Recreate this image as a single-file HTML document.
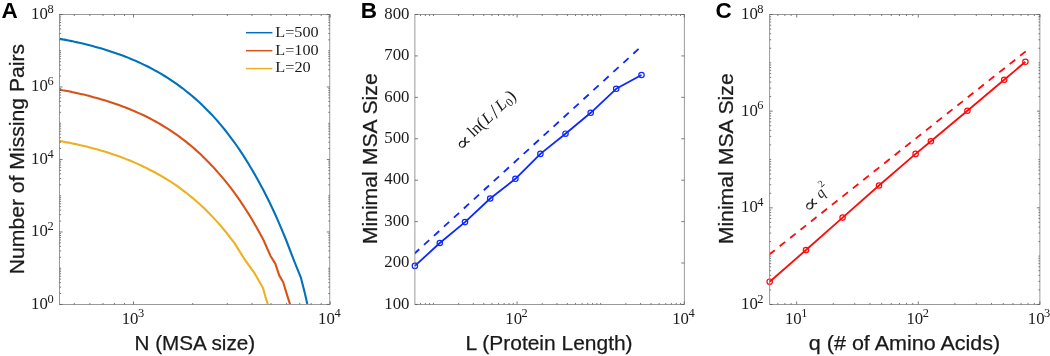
<!DOCTYPE html>
<html><head><meta charset="utf-8"><title>Figure</title>
<style>html,body{margin:0;padding:0;background:#fff}svg{display:block}</style></head>
<body><svg width="1050" height="356" viewBox="0 0 1050 356">
<rect width="1050" height="356" fill="#fff"/>
<clipPath id="ca"><rect x="59.6" y="14.5" width="270.20" height="289.95"/></clipPath>
<path d="M59.6 38.8 L62.6 39.4 L65.6 39.9 L68.6 40.5 L71.6 41.1 L74.6 41.8 L77.6 42.4 L80.6 43.1 L83.6 43.8 L86.6 44.5 L89.6 45.3 L92.6 46.1 L95.6 46.9 L98.6 47.7 L101.6 48.6 L104.6 49.5 L107.6 50.4 L110.6 51.4 L113.6 52.4 L116.6 53.4 L119.6 54.5 L122.6 55.6 L125.6 56.7 L128.6 57.9 L131.6 59.2 L134.6 60.4 L137.6 61.8 L140.6 63.1 L143.6 64.6 L146.6 66.0 L149.6 67.5 L152.6 69.1 L155.6 70.8 L158.6 72.4 L161.6 74.2 L164.6 76.0 L167.6 77.9 L170.6 79.8 L173.6 81.8 L176.6 83.9 L179.6 86.1 L182.6 88.3 L185.6 90.7 L188.6 93.1 L191.6 95.5 L194.6 98.1 L197.6 100.8 L200.6 103.6 L203.6 106.4 L206.6 109.4 L209.6 112.5 L212.6 115.6 L215.6 118.9 L218.6 122.3 L221.6 125.9 L224.6 129.5 L227.6 133.3 L230.6 137.3 L233.6 141.3 L236.6 145.5 L239.6 149.9 L242.6 154.4 L245.6 159.1 L248.6 164.0 L251.6 169.0 L254.6 174.1 L257.6 179.4 L260.6 184.9 L263.6 190.5 L266.6 196.4 L269.6 202.5 L272.6 208.8 L275.6 215.3 L278.6 222.1 L281.6 229.1 L286.1 240.0 L294.0 260.6 L300.8 277.3 L304.8 293.1 L307.3 304.1" fill="none" stroke="#0072BD" stroke-width="2.1" stroke-linejoin="round" clip-path="url(#ca)"/>
<path d="M59.6 89.6 L62.6 90.2 L65.6 90.7 L68.6 91.3 L71.6 91.9 L74.6 92.6 L77.6 93.2 L80.6 93.9 L83.6 94.6 L86.6 95.3 L89.6 96.1 L92.6 96.9 L95.6 97.7 L98.6 98.5 L101.6 99.4 L104.6 100.3 L107.6 101.2 L110.6 102.2 L113.6 103.2 L116.6 104.2 L119.6 105.3 L122.6 106.4 L125.6 107.5 L128.6 108.7 L131.6 110.0 L134.6 111.2 L137.6 112.6 L140.6 113.9 L143.6 115.3 L146.6 116.8 L149.6 118.3 L152.6 119.9 L155.6 121.5 L158.6 123.2 L161.6 125.0 L164.6 126.8 L167.6 128.7 L170.6 130.6 L173.6 132.6 L176.6 134.7 L179.6 136.9 L182.6 139.1 L185.6 141.4 L188.6 143.9 L191.6 146.3 L194.6 148.9 L197.6 151.6 L200.6 154.3 L203.6 157.2 L206.6 160.2 L209.6 163.3 L212.6 166.4 L215.6 169.7 L218.6 173.1 L221.6 176.6 L224.6 180.1 L227.6 183.9 L230.6 187.7 L233.6 191.7 L236.6 195.8 L239.6 200.1 L242.6 204.6 L245.6 209.2 L248.6 213.9 L251.6 218.8 L254.6 224.0 L257.6 229.2 L263.5 240.0 L270.4 255.7 L275.3 263.6 L279.2 275.4 L283.2 282.3 L286.5 293.1 L290.0 304.1" fill="none" stroke="#D95319" stroke-width="2.1" stroke-linejoin="round" clip-path="url(#ca)"/>
<path d="M59.6 140.9 L62.6 141.5 L65.6 142.1 L68.6 142.6 L71.6 143.3 L74.6 143.9 L77.6 144.5 L80.6 145.2 L83.6 145.9 L86.6 146.6 L89.6 147.4 L92.6 148.2 L95.6 149.0 L98.6 149.8 L101.6 150.7 L104.6 151.6 L107.6 152.5 L110.6 153.5 L113.6 154.5 L116.6 155.5 L119.6 156.6 L122.6 157.7 L125.6 158.9 L128.6 160.0 L131.6 161.3 L134.6 162.6 L137.6 163.9 L140.6 165.2 L143.6 166.7 L146.6 168.1 L149.6 169.7 L152.6 171.2 L155.6 172.8 L158.6 174.5 L161.6 176.2 L164.6 178.0 L167.6 179.8 L170.6 181.7 L173.6 183.7 L176.6 185.7 L179.6 187.9 L182.6 190.1 L185.6 192.3 L188.6 194.7 L191.6 197.1 L194.6 199.7 L197.6 202.3 L200.6 205.0 L203.6 207.8 L206.6 210.7 L209.6 213.7 L212.6 216.9 L215.6 220.1 L218.6 223.4 L221.6 226.9 L224.6 230.5 L227.6 234.2 L230.6 238.1 L235.0 243.9 L244.8 259.7 L254.7 273.4 L263.1 288.2 L265.5 297.0 L267.8 304.1" fill="none" stroke="#EDB120" stroke-width="2.1" stroke-linejoin="round" clip-path="url(#ca)"/>
<rect x="59.6" y="14.5" width="270.20" height="289.95" fill="none" stroke="#787878" stroke-width="0.75"/>
<path d="M59.6 14.50h3.0M329.8 14.50h-3.0M59.6 86.99h3.0M329.8 86.99h-3.0M59.6 159.47h3.0M329.8 159.47h-3.0M59.6 231.96h3.0M329.8 231.96h-3.0M59.6 304.45h3.0M329.8 304.45h-3.0" stroke="#5a5a5a" stroke-width="0.8" fill="none"/>
<path d="M59.6 50.74h1.5M329.8 50.74h-1.5M59.6 123.23h1.5M329.8 123.23h-1.5M59.6 195.72h1.5M329.8 195.72h-1.5M59.6 268.21h1.5M329.8 268.21h-1.5" stroke="#5a5a5a" stroke-width="0.8" fill="none"/>
<path d="M59.6 293.54h1.5M329.8 293.54h-1.5M59.6 287.16h1.5M329.8 287.16h-1.5M59.6 282.63h1.5M329.8 282.63h-1.5M59.6 279.12h1.5M329.8 279.12h-1.5M59.6 276.25h1.5M329.8 276.25h-1.5M59.6 273.82h1.5M329.8 273.82h-1.5M59.6 271.72h1.5M329.8 271.72h-1.5M59.6 269.86h1.5M329.8 269.86h-1.5M59.6 257.30h1.5M329.8 257.30h-1.5M59.6 250.91h1.5M329.8 250.91h-1.5M59.6 246.39h1.5M329.8 246.39h-1.5M59.6 242.87h1.5M329.8 242.87h-1.5M59.6 240.00h1.5M329.8 240.00h-1.5M59.6 237.58h1.5M329.8 237.58h-1.5M59.6 235.47h1.5M329.8 235.47h-1.5M59.6 233.62h1.5M329.8 233.62h-1.5M59.6 221.05h1.5M329.8 221.05h-1.5M59.6 214.67h1.5M329.8 214.67h-1.5M59.6 210.14h1.5M329.8 210.14h-1.5M59.6 206.63h1.5M329.8 206.63h-1.5M59.6 203.76h1.5M329.8 203.76h-1.5M59.6 201.33h1.5M329.8 201.33h-1.5M59.6 199.23h1.5M329.8 199.23h-1.5M59.6 197.38h1.5M329.8 197.38h-1.5M59.6 184.81h1.5M329.8 184.81h-1.5M59.6 178.43h1.5M329.8 178.43h-1.5M59.6 173.90h1.5M329.8 173.90h-1.5M59.6 170.39h1.5M329.8 170.39h-1.5M59.6 167.52h1.5M329.8 167.52h-1.5M59.6 165.09h1.5M329.8 165.09h-1.5M59.6 162.99h1.5M329.8 162.99h-1.5M59.6 161.13h1.5M329.8 161.13h-1.5M59.6 148.56h1.5M329.8 148.56h-1.5M59.6 142.18h1.5M329.8 142.18h-1.5M59.6 137.65h1.5M329.8 137.65h-1.5M59.6 134.14h1.5M329.8 134.14h-1.5M59.6 131.27h1.5M329.8 131.27h-1.5M59.6 128.85h1.5M329.8 128.85h-1.5M59.6 126.74h1.5M329.8 126.74h-1.5M59.6 124.89h1.5M329.8 124.89h-1.5M59.6 112.32h1.5M329.8 112.32h-1.5M59.6 105.94h1.5M329.8 105.94h-1.5M59.6 101.41h1.5M329.8 101.41h-1.5M59.6 97.90h1.5M329.8 97.90h-1.5M59.6 95.03h1.5M329.8 95.03h-1.5M59.6 92.60h1.5M329.8 92.60h-1.5M59.6 90.50h1.5M329.8 90.50h-1.5M59.6 88.65h1.5M329.8 88.65h-1.5M59.6 76.08h1.5M329.8 76.08h-1.5M59.6 69.69h1.5M329.8 69.69h-1.5M59.6 65.17h1.5M329.8 65.17h-1.5M59.6 61.65h1.5M329.8 61.65h-1.5M59.6 58.78h1.5M329.8 58.78h-1.5M59.6 56.36h1.5M329.8 56.36h-1.5M59.6 54.26h1.5M329.8 54.26h-1.5M59.6 52.40h1.5M329.8 52.40h-1.5M59.6 39.83h1.5M329.8 39.83h-1.5M59.6 33.45h1.5M329.8 33.45h-1.5M59.6 28.92h1.5M329.8 28.92h-1.5M59.6 25.41h1.5M329.8 25.41h-1.5M59.6 22.54h1.5M329.8 22.54h-1.5M59.6 20.11h1.5M329.8 20.11h-1.5M59.6 18.01h1.5M329.8 18.01h-1.5M59.6 16.16h1.5M329.8 16.16h-1.5" stroke="#5a5a5a" stroke-width="0.8" fill="none"/>
<path d="M133.50 304.45v-3.0M133.50 14.5v3.0M330.20 304.45v-3.0M330.20 14.5v3.0" stroke="#5a5a5a" stroke-width="0.8" fill="none"/>
<path d="M74.29 304.45v-1.5M74.29 14.5v1.5M89.86 304.45v-1.5M89.86 14.5v1.5M103.03 304.45v-1.5M103.03 14.5v1.5M114.44 304.45v-1.5M114.44 14.5v1.5M124.50 304.45v-1.5M124.50 14.5v1.5M192.71 304.45v-1.5M192.71 14.5v1.5M227.35 304.45v-1.5M227.35 14.5v1.5M251.93 304.45v-1.5M251.93 14.5v1.5M270.99 304.45v-1.5M270.99 14.5v1.5M286.56 304.45v-1.5M286.56 14.5v1.5M299.73 304.45v-1.5M299.73 14.5v1.5M311.14 304.45v-1.5M311.14 14.5v1.5M321.20 304.45v-1.5M321.20 14.5v1.5" stroke="#5a5a5a" stroke-width="0.8" fill="none"/>
<text transform="translate(31.10 308.95) scale(0.97 1)" font-family='"Liberation Serif", serif' font-size="17.3" fill="#1a1a1a">10<tspan dx="-0.5" dy="-6.3" font-size="12.8">0</tspan></text>
<text transform="translate(31.10 236.46) scale(0.97 1)" font-family='"Liberation Serif", serif' font-size="17.3" fill="#1a1a1a">10<tspan dx="-0.5" dy="-6.3" font-size="12.8">2</tspan></text>
<text transform="translate(31.10 163.97) scale(0.97 1)" font-family='"Liberation Serif", serif' font-size="17.3" fill="#1a1a1a">10<tspan dx="-0.5" dy="-6.3" font-size="12.8">4</tspan></text>
<text transform="translate(31.10 91.49) scale(0.97 1)" font-family='"Liberation Serif", serif' font-size="17.3" fill="#1a1a1a">10<tspan dx="-0.5" dy="-6.3" font-size="12.8">6</tspan></text>
<text transform="translate(31.10 19.00) scale(0.97 1)" font-family='"Liberation Serif", serif' font-size="17.3" fill="#1a1a1a">10<tspan dx="-0.5" dy="-6.3" font-size="12.8">8</tspan></text>
<text transform="translate(121.70 323.60) scale(0.97 1)" font-family='"Liberation Serif", serif' font-size="17.3" fill="#1a1a1a">10<tspan dx="-0.5" dy="-6.3" font-size="12.8">3</tspan></text>
<text transform="translate(318.10 323.60) scale(0.97 1)" font-family='"Liberation Serif", serif' font-size="17.3" fill="#1a1a1a">10<tspan dx="-0.5" dy="-6.3" font-size="12.8">4</tspan></text>
<text x="1.4" y="18.4" font-family='"Liberation Sans", sans-serif' font-weight="bold" font-size="22.5" fill="#000">A</text>
<text transform="translate(23.9 274.3) rotate(-90)" font-family='"Liberation Sans", sans-serif' font-size="20" fill="#1a1a1a" stroke="#1a1a1a" stroke-width="0.25" textLength="230.5" lengthAdjust="spacingAndGlyphs">Number of Missing Pairs</text>
<text x="134.5" y="350.4" font-family='"Liberation Sans", sans-serif' font-size="20" fill="#1a1a1a" stroke="#1a1a1a" stroke-width="0.25" textLength="120.6" lengthAdjust="spacingAndGlyphs">N (MSA size)</text>
<path d="M246 32.7H272.4" stroke="#0072BD" stroke-width="1.5"/>
<text x="275.3" y="36.5" font-family='"Liberation Serif", serif' font-size="15.4" fill="#1a1a1a" textLength="43.4" lengthAdjust="spacingAndGlyphs">L=500</text>
<path d="M246 50.7H272.4" stroke="#D95319" stroke-width="1.5"/>
<text x="275.3" y="54.5" font-family='"Liberation Serif", serif' font-size="15.4" fill="#1a1a1a" textLength="43.4" lengthAdjust="spacingAndGlyphs">L=100</text>
<path d="M246 68.6H272.4" stroke="#EDB120" stroke-width="1.5"/>
<text x="275.3" y="72.4" font-family='"Liberation Serif", serif' font-size="15.4" fill="#1a1a1a" textLength="35.4" lengthAdjust="spacingAndGlyphs">L=20</text>
<clipPath id="cb"><rect x="414.9" y="14.5" width="269.40" height="289.95"/></clipPath>
<path d="M414.0 254.0L639.4 48.2" stroke="#0d28ff" stroke-width="1.8" stroke-dasharray="7.1 6.4" fill="none" clip-path="url(#cb)"/>
<path d="M414.9 265.9 L439.8 243.0 L465.0 222.1 L490.2 198.5 L515.4 178.8 L540.4 153.9 L565.5 133.7 L590.7 112.8 L616.2 88.8 L641.5 75.0" stroke="#0d28ff" stroke-width="1.8" fill="none" stroke-linejoin="round"/>
<circle cx="414.9" cy="265.9" r="2.7" fill="none" stroke="#0d28ff" stroke-width="1.2"/>
<circle cx="439.8" cy="243.0" r="2.7" fill="none" stroke="#0d28ff" stroke-width="1.2"/>
<circle cx="465.0" cy="222.1" r="2.7" fill="none" stroke="#0d28ff" stroke-width="1.2"/>
<circle cx="490.2" cy="198.5" r="2.7" fill="none" stroke="#0d28ff" stroke-width="1.2"/>
<circle cx="515.4" cy="178.8" r="2.7" fill="none" stroke="#0d28ff" stroke-width="1.2"/>
<circle cx="540.4" cy="153.9" r="2.7" fill="none" stroke="#0d28ff" stroke-width="1.2"/>
<circle cx="565.5" cy="133.7" r="2.7" fill="none" stroke="#0d28ff" stroke-width="1.2"/>
<circle cx="590.7" cy="112.8" r="2.7" fill="none" stroke="#0d28ff" stroke-width="1.2"/>
<circle cx="616.2" cy="88.8" r="2.7" fill="none" stroke="#0d28ff" stroke-width="1.2"/>
<circle cx="641.5" cy="75.0" r="2.7" fill="none" stroke="#0d28ff" stroke-width="1.2"/>
<rect x="414.9" y="14.5" width="269.40" height="289.95" fill="none" stroke="#787878" stroke-width="0.75"/>
<path d="M414.9 14.50h3.0M684.3 14.50h-3.0M414.9 55.92h3.0M684.3 55.92h-3.0M414.9 97.34h3.0M684.3 97.34h-3.0M414.9 138.76h3.0M684.3 138.76h-3.0M414.9 180.19h3.0M684.3 180.19h-3.0M414.9 221.61h3.0M684.3 221.61h-3.0M414.9 263.03h3.0M684.3 263.03h-3.0M414.9 304.45h3.0M684.3 304.45h-3.0" stroke="#5a5a5a" stroke-width="0.8" fill="none"/>
<path d="M517.07 304.45v-3.0M517.07 14.5v3.0M684.30 304.45v-3.0M684.30 14.5v3.0" stroke="#5a5a5a" stroke-width="0.8" fill="none"/>
<path d="M433.45 304.45v-1.5M433.45 14.5v1.5M600.68 304.45v-1.5M600.68 14.5v1.5" stroke="#5a5a5a" stroke-width="0.8" fill="none"/>
<path d="M420.50 304.45v-1.5M420.50 14.5v1.5M425.35 304.45v-1.5M425.35 14.5v1.5M429.62 304.45v-1.5M429.62 14.5v1.5M458.62 304.45v-1.5M458.62 14.5v1.5M473.35 304.45v-1.5M473.35 14.5v1.5M483.79 304.45v-1.5M483.79 14.5v1.5M491.90 304.45v-1.5M491.90 14.5v1.5M498.52 304.45v-1.5M498.52 14.5v1.5M504.11 304.45v-1.5M504.11 14.5v1.5M508.96 304.45v-1.5M508.96 14.5v1.5M513.24 304.45v-1.5M513.24 14.5v1.5M542.24 304.45v-1.5M542.24 14.5v1.5M556.96 304.45v-1.5M556.96 14.5v1.5M567.41 304.45v-1.5M567.41 14.5v1.5M575.51 304.45v-1.5M575.51 14.5v1.5M582.13 304.45v-1.5M582.13 14.5v1.5M587.73 304.45v-1.5M587.73 14.5v1.5M592.58 304.45v-1.5M592.58 14.5v1.5M596.86 304.45v-1.5M596.86 14.5v1.5M625.85 304.45v-1.5M625.85 14.5v1.5M640.58 304.45v-1.5M640.58 14.5v1.5M651.03 304.45v-1.5M651.03 14.5v1.5M659.13 304.45v-1.5M659.13 14.5v1.5M665.75 304.45v-1.5M665.75 14.5v1.5M671.35 304.45v-1.5M671.35 14.5v1.5M676.20 304.45v-1.5M676.20 14.5v1.5M680.47 304.45v-1.5M680.47 14.5v1.5" stroke="#5a5a5a" stroke-width="0.8" fill="none"/>
<text transform="translate(409.4 18.70) scale(0.97 1)" font-family='"Liberation Serif", serif' font-size="17.3" text-anchor="end" fill="#1a1a1a">800</text>
<text transform="translate(409.4 60.12) scale(0.97 1)" font-family='"Liberation Serif", serif' font-size="17.3" text-anchor="end" fill="#1a1a1a">700</text>
<text transform="translate(409.4 101.54) scale(0.97 1)" font-family='"Liberation Serif", serif' font-size="17.3" text-anchor="end" fill="#1a1a1a">600</text>
<text transform="translate(409.4 142.96) scale(0.97 1)" font-family='"Liberation Serif", serif' font-size="17.3" text-anchor="end" fill="#1a1a1a">500</text>
<text transform="translate(409.4 184.39) scale(0.97 1)" font-family='"Liberation Serif", serif' font-size="17.3" text-anchor="end" fill="#1a1a1a">400</text>
<text transform="translate(409.4 225.81) scale(0.97 1)" font-family='"Liberation Serif", serif' font-size="17.3" text-anchor="end" fill="#1a1a1a">300</text>
<text transform="translate(409.4 267.23) scale(0.97 1)" font-family='"Liberation Serif", serif' font-size="17.3" text-anchor="end" fill="#1a1a1a">200</text>
<text transform="translate(409.4 308.65) scale(0.97 1)" font-family='"Liberation Serif", serif' font-size="17.3" text-anchor="end" fill="#1a1a1a">100</text>
<text transform="translate(505.27 323.60) scale(0.97 1)" font-family='"Liberation Serif", serif' font-size="17.3" fill="#1a1a1a">10<tspan dx="-0.5" dy="-6.3" font-size="12.8">2</tspan></text>
<text transform="translate(672.20 323.60) scale(0.97 1)" font-family='"Liberation Serif", serif' font-size="17.3" fill="#1a1a1a">10<tspan dx="-0.5" dy="-6.3" font-size="12.8">4</tspan></text>
<text x="360.8" y="18.2" font-family='"Liberation Sans", sans-serif' font-weight="bold" font-size="22.5" fill="#000">B</text>
<text transform="translate(377.0 244.3) rotate(-90)" font-family='"Liberation Sans", sans-serif' font-size="20" fill="#1a1a1a" stroke="#1a1a1a" stroke-width="0.25" textLength="171" lengthAdjust="spacingAndGlyphs">Minimal MSA Size</text>
<text x="465.6" y="350.4" font-family='"Liberation Sans", sans-serif' font-size="20" fill="#1a1a1a" stroke="#1a1a1a" stroke-width="0.25" textLength="167" lengthAdjust="spacingAndGlyphs">L (Protein Length)</text>
<text transform="translate(461.3 149.2) rotate(-43.2) scale(1 0.8)" x="-2.1" y="3.4" font-family='"DejaVu Serif", "DejaVu Sans", serif' font-size="23.5" fill="#1a1a1a">∝</text>
<text transform="translate(461.3 149.2) rotate(-43.2)" font-family='"Liberation Serif", serif' font-size="16.5" fill="#1a1a1a"><tspan x="16.6" y="0">ln</tspan><tspan x="28.9" y="0.4" font-size="18">(</tspan><tspan x="35.8" y="0" font-style="italic">L</tspan><tspan x="46.8" y="1.8" font-size="21">/</tspan><tspan x="54.6" y="0" font-style="italic">L</tspan><tspan x="64.5" y="2.6" font-size="11.5">0</tspan><tspan x="70.1" y="0.4" font-size="18">)</tspan></text>
<clipPath id="cc"><rect x="769.7" y="14.5" width="270.20" height="289.95"/></clipPath>
<path d="M769.17 254.6L1026.0 51.15" stroke="#ff0a0a" stroke-width="1.8" stroke-dasharray="7.1 6.24" fill="none" clip-path="url(#cc)"/>
<path d="M769.7 281.7 L806.0 250.0 L842.6 217.6 L879.0 185.5 L915.6 153.9 L930.9 141.3 L967.4 110.8 L1004.2 79.8 L1025.4 61.8" stroke="#ff0a0a" stroke-width="1.8" fill="none" stroke-linejoin="round"/>
<circle cx="769.7" cy="281.7" r="2.7" fill="none" stroke="#ff0a0a" stroke-width="1.2"/>
<circle cx="806.0" cy="250.0" r="2.7" fill="none" stroke="#ff0a0a" stroke-width="1.2"/>
<circle cx="842.6" cy="217.6" r="2.7" fill="none" stroke="#ff0a0a" stroke-width="1.2"/>
<circle cx="879.0" cy="185.5" r="2.7" fill="none" stroke="#ff0a0a" stroke-width="1.2"/>
<circle cx="915.6" cy="153.9" r="2.7" fill="none" stroke="#ff0a0a" stroke-width="1.2"/>
<circle cx="930.9" cy="141.3" r="2.7" fill="none" stroke="#ff0a0a" stroke-width="1.2"/>
<circle cx="967.4" cy="110.8" r="2.7" fill="none" stroke="#ff0a0a" stroke-width="1.2"/>
<circle cx="1004.2" cy="79.8" r="2.7" fill="none" stroke="#ff0a0a" stroke-width="1.2"/>
<circle cx="1025.4" cy="61.8" r="2.7" fill="none" stroke="#ff0a0a" stroke-width="1.2"/>
<rect x="769.7" y="14.5" width="270.20" height="289.95" fill="none" stroke="#787878" stroke-width="0.75"/>
<path d="M769.7 14.50h3.0M1039.9 14.50h-3.0M769.7 111.15h3.0M1039.9 111.15h-3.0M769.7 207.80h3.0M1039.9 207.80h-3.0M769.7 304.45h3.0M1039.9 304.45h-3.0" stroke="#5a5a5a" stroke-width="0.8" fill="none"/>
<path d="M769.7 62.82h1.5M1039.9 62.82h-1.5M769.7 159.47h1.5M1039.9 159.47h-1.5M769.7 256.12h1.5M1039.9 256.12h-1.5" stroke="#5a5a5a" stroke-width="0.8" fill="none"/>
<path d="M769.7 289.90h1.5M1039.9 289.90h-1.5M769.7 281.39h1.5M1039.9 281.39h-1.5M769.7 275.36h1.5M1039.9 275.36h-1.5M769.7 270.67h1.5M1039.9 270.67h-1.5M769.7 266.85h1.5M1039.9 266.85h-1.5M769.7 263.61h1.5M1039.9 263.61h-1.5M769.7 260.81h1.5M1039.9 260.81h-1.5M769.7 258.34h1.5M1039.9 258.34h-1.5M769.7 241.58h1.5M1039.9 241.58h-1.5M769.7 233.07h1.5M1039.9 233.07h-1.5M769.7 227.03h1.5M1039.9 227.03h-1.5M769.7 222.35h1.5M1039.9 222.35h-1.5M769.7 218.52h1.5M1039.9 218.52h-1.5M769.7 215.29h1.5M1039.9 215.29h-1.5M769.7 212.48h1.5M1039.9 212.48h-1.5M769.7 210.01h1.5M1039.9 210.01h-1.5M769.7 193.25h1.5M1039.9 193.25h-1.5M769.7 184.74h1.5M1039.9 184.74h-1.5M769.7 178.71h1.5M1039.9 178.71h-1.5M769.7 174.02h1.5M1039.9 174.02h-1.5M769.7 170.20h1.5M1039.9 170.20h-1.5M769.7 166.96h1.5M1039.9 166.96h-1.5M769.7 164.16h1.5M1039.9 164.16h-1.5M769.7 161.69h1.5M1039.9 161.69h-1.5M769.7 144.93h1.5M1039.9 144.93h-1.5M769.7 136.42h1.5M1039.9 136.42h-1.5M769.7 130.38h1.5M1039.9 130.38h-1.5M769.7 125.70h1.5M1039.9 125.70h-1.5M769.7 121.87h1.5M1039.9 121.87h-1.5M769.7 118.64h1.5M1039.9 118.64h-1.5M769.7 115.83h1.5M1039.9 115.83h-1.5M769.7 113.36h1.5M1039.9 113.36h-1.5M769.7 96.60h1.5M1039.9 96.60h-1.5M769.7 88.09h1.5M1039.9 88.09h-1.5M769.7 82.06h1.5M1039.9 82.06h-1.5M769.7 77.37h1.5M1039.9 77.37h-1.5M769.7 73.55h1.5M1039.9 73.55h-1.5M769.7 70.31h1.5M1039.9 70.31h-1.5M769.7 67.51h1.5M1039.9 67.51h-1.5M769.7 65.04h1.5M1039.9 65.04h-1.5M769.7 48.28h1.5M1039.9 48.28h-1.5M769.7 39.77h1.5M1039.9 39.77h-1.5M769.7 33.73h1.5M1039.9 33.73h-1.5M769.7 29.05h1.5M1039.9 29.05h-1.5M769.7 25.22h1.5M1039.9 25.22h-1.5M769.7 21.99h1.5M1039.9 21.99h-1.5M769.7 19.18h1.5M1039.9 19.18h-1.5M769.7 16.71h1.5M1039.9 16.71h-1.5" stroke="#5a5a5a" stroke-width="0.8" fill="none"/>
<path d="M796.68 304.45v-3.0M796.68 14.5v3.0M918.29 304.45v-3.0M918.29 14.5v3.0M1039.90 304.45v-3.0M1039.90 14.5v3.0" stroke="#5a5a5a" stroke-width="0.8" fill="none"/>
<path d="M777.84 304.45v-1.5M777.84 14.5v1.5M784.89 304.45v-1.5M784.89 14.5v1.5M791.11 304.45v-1.5M791.11 14.5v1.5M833.29 304.45v-1.5M833.29 14.5v1.5M854.70 304.45v-1.5M854.70 14.5v1.5M869.90 304.45v-1.5M869.90 14.5v1.5M881.68 304.45v-1.5M881.68 14.5v1.5M891.31 304.45v-1.5M891.31 14.5v1.5M899.45 304.45v-1.5M899.45 14.5v1.5M906.50 304.45v-1.5M906.50 14.5v1.5M912.72 304.45v-1.5M912.72 14.5v1.5M954.90 304.45v-1.5M954.90 14.5v1.5M976.31 304.45v-1.5M976.31 14.5v1.5M991.51 304.45v-1.5M991.51 14.5v1.5M1003.29 304.45v-1.5M1003.29 14.5v1.5M1012.92 304.45v-1.5M1012.92 14.5v1.5M1021.06 304.45v-1.5M1021.06 14.5v1.5M1028.11 304.45v-1.5M1028.11 14.5v1.5M1034.34 304.45v-1.5M1034.34 14.5v1.5" stroke="#5a5a5a" stroke-width="0.8" fill="none"/>
<text transform="translate(741.00 308.95) scale(0.97 1)" font-family='"Liberation Serif", serif' font-size="17.3" fill="#1a1a1a">10<tspan dx="-0.5" dy="-6.3" font-size="12.8">2</tspan></text>
<text transform="translate(741.00 212.30) scale(0.97 1)" font-family='"Liberation Serif", serif' font-size="17.3" fill="#1a1a1a">10<tspan dx="-0.5" dy="-6.3" font-size="12.8">4</tspan></text>
<text transform="translate(741.00 115.65) scale(0.97 1)" font-family='"Liberation Serif", serif' font-size="17.3" fill="#1a1a1a">10<tspan dx="-0.5" dy="-6.3" font-size="12.8">6</tspan></text>
<text transform="translate(741.00 19.00) scale(0.97 1)" font-family='"Liberation Serif", serif' font-size="17.3" fill="#1a1a1a">10<tspan dx="-0.5" dy="-6.3" font-size="12.8">8</tspan></text>
<text transform="translate(784.88 323.60) scale(0.97 1)" font-family='"Liberation Serif", serif' font-size="17.3" fill="#1a1a1a">10<tspan dx="-0.5" dy="-6.3" font-size="12.8">1</tspan></text>
<text transform="translate(906.49 323.60) scale(0.97 1)" font-family='"Liberation Serif", serif' font-size="17.3" fill="#1a1a1a">10<tspan dx="-0.5" dy="-6.3" font-size="12.8">2</tspan></text>
<text transform="translate(1027.80 323.60) scale(0.97 1)" font-family='"Liberation Serif", serif' font-size="17.3" fill="#1a1a1a">10<tspan dx="-0.5" dy="-6.3" font-size="12.8">3</tspan></text>
<text x="715.4" y="18.2" font-family='"Liberation Sans", sans-serif' font-weight="bold" font-size="22.5" fill="#000">C</text>
<text transform="translate(733.4 244.3) rotate(-90)" font-family='"Liberation Sans", sans-serif' font-size="20" fill="#1a1a1a" stroke="#1a1a1a" stroke-width="0.25" textLength="171" lengthAdjust="spacingAndGlyphs">Minimal MSA Size</text>
<text x="808.8" y="350.4" font-family='"Liberation Sans", sans-serif' font-size="20" fill="#1a1a1a" stroke="#1a1a1a" stroke-width="0.25" textLength="191.5" lengthAdjust="spacingAndGlyphs">q (# of Amino Acids)</text>
<text transform="translate(808.9 210.9) rotate(-44) scale(1 0.8)" x="-2.1" y="3.4" font-family='"DejaVu Serif", "DejaVu Sans", serif' font-size="23.5" fill="#1a1a1a">∝</text>
<text transform="translate(808.9 210.9) rotate(-44)" font-family='"Liberation Serif", serif' font-size="16.5" fill="#1a1a1a"><tspan x="17.0" y="-0.2" font-style="italic" font-size="15">q</tspan><tspan x="25.0" y="-7.9" font-size="10">2</tspan></text>
</svg></body></html>
